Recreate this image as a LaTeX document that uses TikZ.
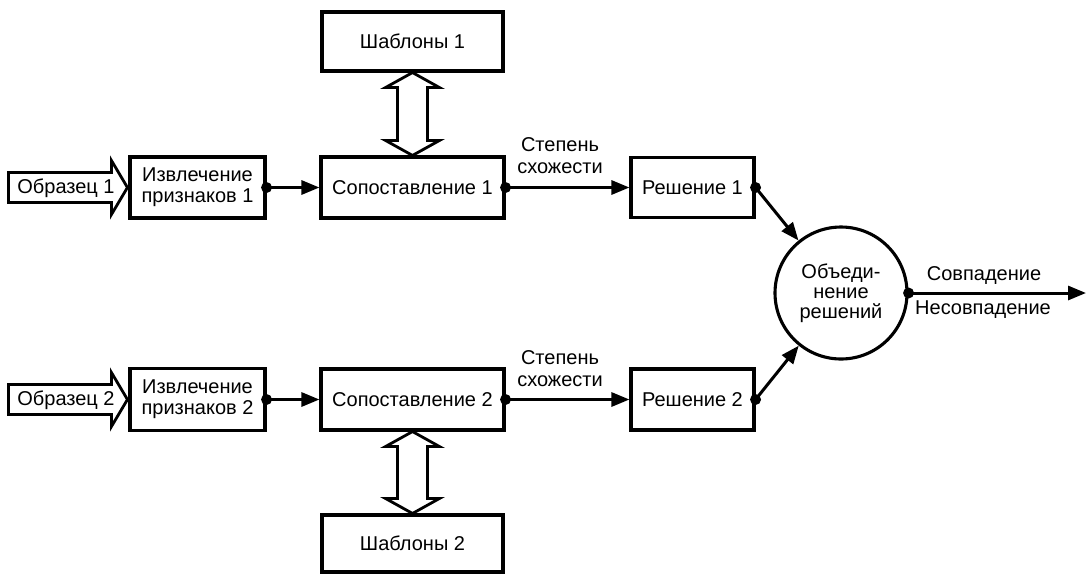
\documentclass[tikz,border=0pt]{standalone}
\usepackage{fontspec}
\setmainfont{Liberation Sans}
\usetikzlibrary{arrows.meta,calc}
\begin{document}
\begin{tikzpicture}[x=1pt,y=-1pt,
  every node/.style={font=\fontsize{20}{21}\selectfont, inner sep=0pt, align=center},
  box/.style={draw, line width=3.1pt, minimum width=#1},
  circ/.style={draw, line width=3.1pt, circle, minimum size=132pt},
  conn/.style={line width=3pt, -{Triangle[length=18pt,width=14pt]}},
  blockarr/.style={draw, line width=2.8pt, line join=miter, fill=white},
  dotr/.style={radius=5.5pt}
]
\useasboundingbox (0,0) rectangle (1089,574);
% boxes
\node[box=135pt, minimum height=61pt] (e1) at (197.5,187.5) {Извлечение\\признаков 1};
\node[box=183pt, minimum height=61pt] (s1) at (412.5,187.5) {Сопоставление 1};
\node[box=181pt, minimum height=59pt] (t1) at (412.5,41.5) {Шаблоны 1};
\node[box=123pt, minimum height=60pt] (r1) at (692.5,187.5) {Решение 1};
\node[box=135pt, minimum height=62pt] (e2) at (197.5,399.5) {Извлечение\\признаков 2};
\node[box=183pt, minimum height=61pt] (s2) at (412.5,399.5) {Сопоставление 2};
\node[box=181pt, minimum height=57pt] (t2) at (412.5,543.5) {Шаблоны 2};
\node[box=123pt, minimum height=61pt] (r2) at (692.5,399.5) {Решение 2};
\node[circ, font=\fontsize{20}{20}\selectfont] (c) at (841,293) {Объеди-\\нение\\решений};
\coordinate (out) at (1086,293);

% input block arrows
\draw[blockarr] ($(e1.west)+(-1,0)$) -- ++(-16,-27) -- ++(0,12) -- ++(-103,0) -- ++(0,30) -- ++(103,0) -- ++(0,12) -- cycle;
\draw[blockarr] ($(e2.west)+(-1,0)$) -- ++(-16,-27) -- ++(0,12) -- ++(-103,0) -- ++(0,30) -- ++(103,0) -- ++(0,12) -- cycle;
\node (in1) at (66,188) {Образец 1};
\node (in2) at (66,400) {Образец 2};

% double arrows
\draw[blockarr] (t1.south) -- ++(27,15) -- ++(-12,0) -- ($(s1.north)+(15,-15)$) -- ++(12,0) -- (s1.north) -- ++(-27,-15) -- ++(12,0) -- ($(t1.south)+(-15,15)$) -- ++(-12,0) -- cycle;
\draw[blockarr] (s2.south) -- ++(27,15) -- ++(-12,0) -- ($(t2.north)+(15,-15)$) -- ++(12,0) -- (t2.north) -- ++(-27,-15) -- ++(12,0) -- ($(s2.south)+(-15,15)$) -- ++(-12,0) -- cycle;

% connectors
\draw[conn] (e1.east) -- (s1.west);
\draw[conn] (s1.east) -- (r1.west);
\draw[conn] (r1.east) -- (c);
\draw[conn] (e2.east) -- (s2.west);
\draw[conn] (s2.east) -- (r2.west);
\draw[conn] (r2.east) -- (c);
\draw[conn] (c.east) -- (out);

% dots
\fill (e1.east) circle[dotr];
\fill (s1.east) circle[dotr];
\fill (r1.east) circle[dotr];
\fill (e2.east) circle[dotr];
\fill (s2.east) circle[dotr];
\fill (r2.east) circle[dotr];
\fill (c.east) circle[dotr];

% labels
\node[font=\fontsize{20}{22}\selectfont] (l1) at (560,156) {Степень\\схожести};
\node[font=\fontsize{20}{22}\selectfont] (l2) at (560,369) {Степень\\схожести};
\node (m1) at (984,276) {Совпадение};
\node (m2) at (983,310) {Несовпадение};
\end{tikzpicture}
\end{document}
